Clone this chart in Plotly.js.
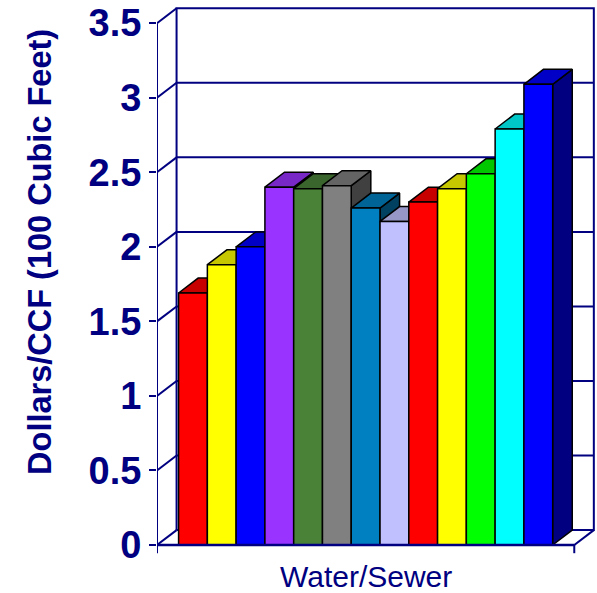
<!DOCTYPE html>
<html>
<head>
<meta charset="utf-8">
<script src="https://cdn.plot.ly/plotly-3.0.1.min.js"></script>
<style>html,body{margin:0;padding:0;background:#fff;}#chart{width:597px;height:593px;}</style>
</head>
<body>
<div id="chart"></div>
<script>
// ---- data ----
const category = 'Water/Sewer';
const seriesValues = [1.69, 1.88, 2.00, 2.40, 2.39, 2.41, 2.26, 2.17, 2.30, 2.39, 2.49, 2.79, 3.09];
const seriesColors = ['#FF0000', '#FFFF00', '#0000FF', '#9933FF', '#4A8238', '#808080', '#0080C0',
                      '#C0C0FF', '#FF0000', '#FFFF00', '#00FF00', '#00FFFF', '#0000FF'];
const tickValues = [0, 0.5, 1, 1.5, 2, 2.5, 3, 3.5];
const tickLabels = ['0', '0.5', '1', '1.5', '2', '2.5', '3', '3.5'];
const yTitle = 'Dollars/CCF (100 Cubic Feet)';

// ---- 3D look parameters ----
const DX = 0.68;   // depth offset in bar units
const DY = 0.10;   // depth offset in value units
const GAP = 0.75;  // floor margin each side of the bars
const NAVY = '#000080';

function shade(hex, f) {
  const n = parseInt(hex.slice(1), 16);
  const r = Math.round(((n >> 16) & 255) * f), g = Math.round(((n >> 8) & 255) * f), b = Math.round((n & 255) * f);
  return 'rgb(' + r + ',' + g + ',' + b + ')';
}

const n = seriesValues.length;
const x0 = -GAP, x1 = n + GAP;
const yMax = tickValues[tickValues.length - 1];
const traces = [];
function line(xs, ys, color, w) {
  traces.push({type: 'scatter', mode: 'lines', x: xs, y: ys, line: {color: color, width: w}, hoverinfo: 'skip'});
}
function poly(xs, ys, fill) {
  traces.push({type: 'scatter', mode: 'lines', x: xs, y: ys, fill: 'toself', fillcolor: fill,
               line: {color: '#000000', width: 1.5}, hoverinfo: 'skip'});
}

// back wall frame
line([x0 + DX, x1 + DX, x1 + DX, x0 + DX, x0 + DX], [DY, DY, yMax + DY, yMax + DY, DY], NAVY, 2);
// back wall gridlines and side wall diagonals
tickValues.forEach(function (t) {
  if (t > 0 && t < yMax) line([x0 + DX, x1 + DX], [t + DY, t + DY], NAVY, 2);
  line([x0, x0 + DX], [t, t + DY], NAVY, 2);
});
// front value axis
line([x0, x0], [-0.055, yMax], NAVY, 2);
// floor right edge
line([x1, x1 + DX], [0, DY], NAVY, 2);

// bars: side, top, front (painter's order left to right)
seriesValues.forEach(function (v, i) {
  const c = seriesColors[i];
  poly([i + 1, i + 1 + DX, i + 1 + DX, i + 1, i + 1], [0, DY, v + DY, v, 0], shade(c, 0.5));
  poly([i, i + 1, i + 1 + DX, i + DX, i], [v, v, v + DY, v + DY, v], shade(c, 0.78));
  poly([i, i + 1, i + 1, i, i], [0, 0, v, v, 0], c);
});

// floor front edge and category boundary ticks
line([x0, x1], [0, 0], NAVY, 2.5);
line([x1, x1], [0, -0.055], NAVY, 2);

const layout = {
  width: 597, height: 593,
  margin: {l: 157, r: 0, t: 5, b: 33},
  paper_bgcolor: '#ffffff', plot_bgcolor: '#ffffff',
  showlegend: false, hovermode: false,
  xaxis: {range: [x0, 14.54], showgrid: false, zeroline: false, showline: false,
          showticklabels: false, ticks: '', fixedrange: true},
  yaxis: {range: [-0.1006, 3.6217], showgrid: false, zeroline: false, showline: false,
          tickvals: tickValues, ticktext: tickLabels, ticks: 'outside', ticklen: 7,
          tickwidth: 2, tickcolor: NAVY, automargin: false, fixedrange: true,
          tickfont: {family: 'Liberation Sans, Arial, sans-serif', size: 38, weight: 'bold', color: NAVY}},
  annotations: [
    {text: category, xref: 'x', yref: 'paper', x: n / 2, y: -0.0306, xanchor: 'center', yanchor: 'middle',
     showarrow: false, font: {family: 'Liberation Sans, Arial, sans-serif', size: 30, color: NAVY}},
    {text: yTitle, xref: 'paper', yref: 'paper', x: -0.266, y: 0.555, xanchor: 'center', yanchor: 'middle',
     textangle: -90, showarrow: false,
     font: {family: 'Liberation Sans, Arial, sans-serif', size: 32.5, weight: 'bold', color: NAVY}}
  ]
};

Plotly.newPlot('chart', traces, layout, {staticPlot: true, displayModeBar: false});
</script>
</body>
</html>
